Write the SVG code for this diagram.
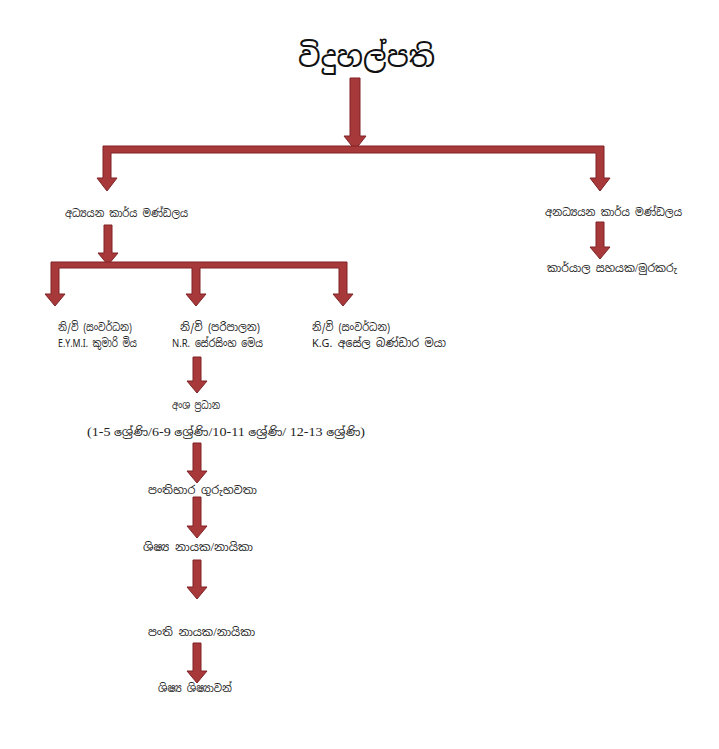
<svg xmlns="http://www.w3.org/2000/svg" width="719" height="749" viewBox="0 0 719 749">
<style>
  .arr { fill: #a8393b; stroke: #7e2326; stroke-width: 1; }
  .t { font-family: "Noto Sans Sinhala", "Noto Serif Sinhala", "Liberation Serif", serif; font-size: 11px; fill: #222; }
  .r2 { font-size: 11.5px; }
  .l { font-family: "Liberation Serif", "Times New Roman", serif; font-size: 12.5px; }
  .c { text-anchor: middle; }
  .title { font-family: "Noto Sans Sinhala", "Noto Sans", "Liberation Sans", sans-serif; font-size: 29px; fill: #111; text-anchor: middle; }
</style>
<rect width="719" height="749" fill="#ffffff"/>
<g id="connectors">
  <path class="arr" d="M350 78 H360 V136 H366 L355 150 L344 136 H350 Z"/>
  <path class="arr" d="M103 146 H604 V178 H610 L600 191 L590 178 H596 V153 H111 V178 H117 L107 191 L97 178 H103 Z"/>
  <path class="arr" d="M104 225 H112 V253 H118 L108 265 L98 253 H104 Z"/>
  <path class="arr" d="M51 262 H347 V294 H353 L343 306 L333 294 H339 V268 H200 V294 H206 L196 306 L186 294 H192 V268 H59 V294 H65 L55 306 L45 294 H51 Z"/>
  <path class="arr" d="M596 222 H604 V247 H610 L600 259 L590 247 H596 Z"/>
  <path class="arr" d="M193 357 H201 V381 H207 L197 393 L187 381 H193 Z"/>
  <path class="arr" d="M193 443 H201 V471 H207 L197 483 L187 471 H193 Z"/>
  <path class="arr" d="M193 497 H201 V526 H207 L197 538 L187 526 H193 Z"/>
  <path class="arr" d="M193 560 H201 V587 H207 L197 599 L187 587 H193 Z"/>
  <path class="arr" d="M193 643 H201 V671 H207 L197 683 L187 671 H193 Z"/>
</g>
<g id="principal"><text class="title" x="366.5" y="67" textLength="137" lengthAdjust="spacingAndGlyphs">විදුහල්පති</text></g>
<g id="academic-staff"><text class="t c" x="126.5" y="217" textLength="123" lengthAdjust="spacingAndGlyphs">අධ්‍යයන කාර්ය මණ්ඩලය</text></g>
<g id="non-academic-staff"><text class="t c" x="613.5" y="216" textLength="137" lengthAdjust="spacingAndGlyphs">අනධ්‍යයන කාර්ය මණ්ඩලය</text></g>
<g id="office-assistant"><text class="t c" x="612" y="272" textLength="130" lengthAdjust="spacingAndGlyphs">කාර්යාල සහයක<tspan class="l">/</tspan>මුරකරු</text></g>
<g id="deputy-1">
  <text class="t"><tspan x="58" y="331" textLength="74" lengthAdjust="spacingAndGlyphs">නි/වි (සංවර්ධන)</tspan><tspan class="r2" x="58" y="347" textLength="79" lengthAdjust="spacingAndGlyphs">E.Y.M.I. කුමාරි මිය</tspan></text>
</g>
<g id="deputy-2">
  <text class="t"><tspan x="180" y="331" textLength="80" lengthAdjust="spacingAndGlyphs">නි/වි (පරිපාලන)</tspan><tspan class="r2" x="172" y="347" textLength="91" lengthAdjust="spacingAndGlyphs">N.R. සේරසිංහ මෙය</tspan></text>
</g>
<g id="deputy-3">
  <text class="t"><tspan x="312" y="331" textLength="78" lengthAdjust="spacingAndGlyphs">නි/වි (සංවර්ධන)</tspan><tspan class="r2" x="312" y="347" textLength="134" lengthAdjust="spacingAndGlyphs">K.G. අසේල බණ්ඩාර මයා</tspan></text>
</g>
<g id="section-heads">
  <text class="t c" x="196" y="409" textLength="48" lengthAdjust="spacingAndGlyphs">අංශ ප්‍රධාන</text>
  <text class="t c" x="226" y="436" textLength="278" lengthAdjust="spacingAndGlyphs"><tspan class="l">(1-5 </tspan>ශ්‍රේණි<tspan class="l">/6-9 </tspan>ශ්‍රේණි<tspan class="l">/10-11 </tspan>ශ්‍රේණි<tspan class="l">/ 12-13 </tspan>ශ්‍රේණි<tspan class="l">)</tspan></text>
</g>
<g id="class-teachers"><text class="t c" x="202.5" y="494" textLength="109" lengthAdjust="spacingAndGlyphs">පංතිභාර ගුරුභවතා</text></g>
<g id="student-leaders"><text class="t c" x="198" y="551" textLength="110" lengthAdjust="spacingAndGlyphs">ශිෂ්‍ය නායක<tspan class="l">/</tspan>නායිකා</text></g>
<g id="class-leaders"><text class="t c" x="201.5" y="636" textLength="107" lengthAdjust="spacingAndGlyphs">පංති නායක<tspan class="l">/</tspan>නායිකා</text></g>
<g id="students"><text class="t c" x="195" y="692" textLength="74" lengthAdjust="spacingAndGlyphs">ශිෂ්‍ය ශිෂ්‍යාවන්</text></g>
</svg>
